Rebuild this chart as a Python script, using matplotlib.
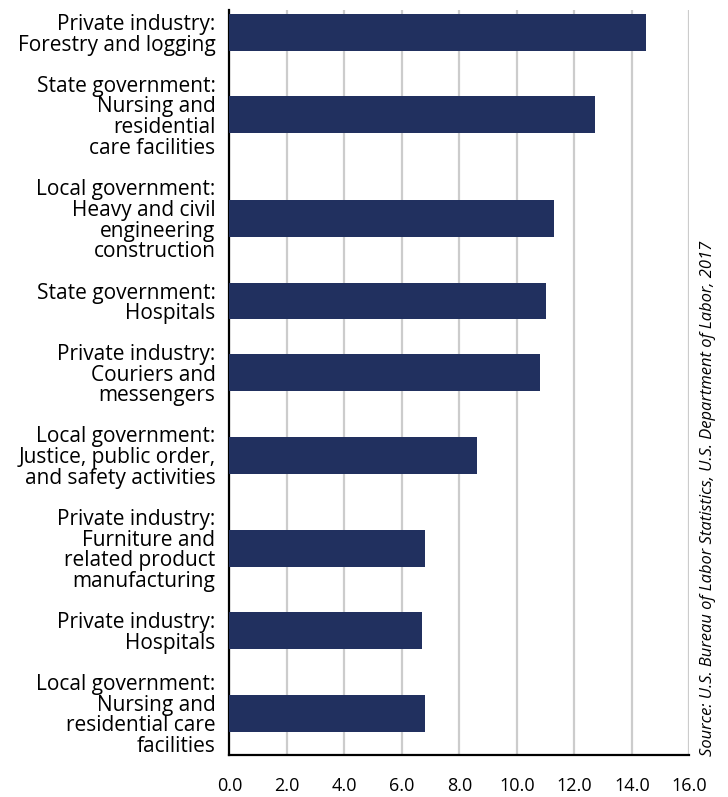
import matplotlib
matplotlib.use("Agg")
import matplotlib.pyplot as plt
import numpy as np

# Injury and illness rates by industry and ownership
categories = [
    "Private industry:\nForestry and logging",
    "State government:\nNursing and\nresidential\ncare facilities",
    "Local government:\nHeavy and civil\nengineering\nconstruction",
    "State government:\nHospitals",
    "Private industry:\nCouriers and\nmessengers",
    "Local government:\nJustice, public order,\nand safety activities",
    "Private industry:\nFurniture and\nrelated product\nmanufacturing",
    "Private industry:\nHospitals",
    "Local government:\nNursing and\nresidential care\nfacilities",
]
rates = [14.5, 12.7, 11.3, 11.0, 10.8, 8.6, 6.8, 6.7, 6.8]
x_ticks = [0, 2, 4, 6, 8, 10, 12, 14, 16]
x_tick_labels = ["0.0", "2.0", "4.0", "6.0", "8.0", "10.0", "12.0", "14.0", "16.0"]
source = "Source: U.S. Bureau of Labor Statistics, U.S. Department of Labor, 2017"

plt.rcParams["font.family"] = ["Open Sans", "DejaVu Sans"]

# Space the bars by the height of their wrapped labels (in text lines)
n_lines = np.array([c.count("\n") + 1 for c in categories])
gaps = 0.86 + (n_lines[:-1] + n_lines[1:]) / 2.0
ypos = np.concatenate([[0.0], np.cumsum(gaps)])

fig = plt.figure(figsize=(7.28, 7.97), dpi=100)
ax = fig.add_axes([0.315, 0.0527, 0.632, 0.9348])

ax.barh(ypos, rates, height=1.72, color="#21305f", zorder=3)

ax.set_xlim(0, 16)
ax.set_ylim(ypos[-1] + 1.96, -1.05)
ax.set_xticks(x_ticks)
ax.set_xticklabels(x_tick_labels, fontsize=13)
ax.set_yticks(ypos)
ax.set_yticklabels(categories, fontsize=15, linespacing=0.98)
ax.tick_params(axis="x", length=0, pad=15.5)
ax.tick_params(axis="y", length=0, pad=10)

ax.grid(axis="x", color="#cccccc", linewidth=1.6, zorder=0)
ax.set_axisbelow(True)
for side in ("top", "right"):
    ax.spines[side].set_visible(False)
for side in ("left", "bottom"):
    ax.spines[side].set_color("black")
    ax.spines[side].set_linewidth(1.6)

fig.text(0.9725, 0.375, source, rotation=90, ha="center", va="center",
         fontsize=11.9, style="italic")

fig.savefig("out.png", dpi=100)
